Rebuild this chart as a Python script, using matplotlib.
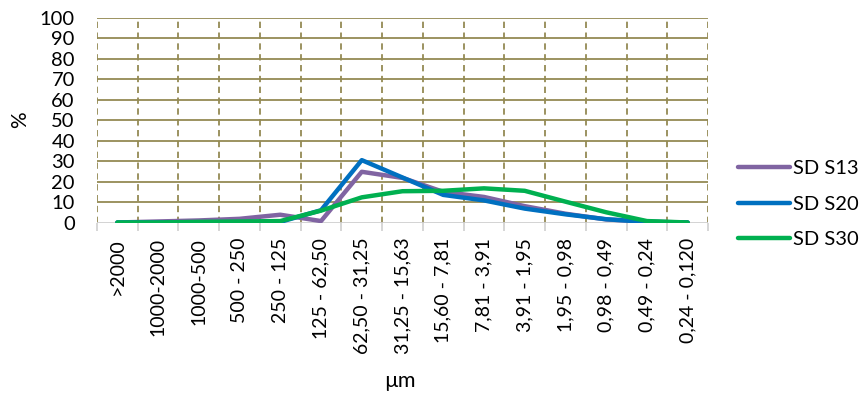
import numpy as np
import matplotlib
matplotlib.use("Agg")
import matplotlib.pyplot as plt

plt.rcParams['font.family'] = ['Lato', 'DejaVu Sans']

categories = [">2000", "1000-2000", "1000-500", "500 - 250", "250 - 125",
              "125 - 62,50", "62,50 - 31,25", "31,25 - 15,63", "15,60 - 7,81",
              "7,81 - 3,91", "3,91 - 1,95", "1,95 - 0,98", "0,98 - 0,49",
              "0,49 - 0,24", "0,24 - 0,120"]

sd_s13 = [0.0, 0.5, 1.0, 1.8, 3.8, 0.7, 24.8, 21.8, 15.0, 12.5, 8.0, 4.3, 1.5, 0.4, 0.0]
sd_s20 = [0.0, 0.0, 0.0, 0.0, 0.3, 6.0, 30.5, 22.0, 13.5, 10.8, 6.8, 4.0, 1.6, 0.3, 0.0]
sd_s30 = [0.0, 0.0, 0.3, 0.5, 0.7, 5.8, 12.3, 15.3, 15.5, 16.7, 15.5, 10.2, 5.0, 0.7, 0.0]

series = [("SD S13", sd_s13, "#8064A2"),
          ("SD S20", sd_s20, "#0070C0"),
          ("SD S30", sd_s30, "#00B050")]

grid_col = "#948A54"

fig = plt.figure(figsize=(8.62, 3.94), dpi=100)
ax = fig.add_axes([97 / 862, 1 - 222.5 / 394, 611 / 862, (222.5 - 18) / 394])

x = np.arange(len(categories))
for name, vals, col in series:
    ax.plot(x, vals, color=col, lw=3.2, label=name,
            solid_joinstyle="round", solid_capstyle="round", zorder=3)

ax.set_xlim(-0.5, len(categories) - 0.5)
ax.set_ylim(0, 100)
ax.set_yticks(np.arange(0, 101, 10))

# horizontal solid gridlines, vertical dashed gridlines at category borders
for yv in range(10, 101, 10):
    ax.axhline(yv, color=grid_col, lw=1.3, zorder=1)
for xb in np.arange(-0.5, len(categories), 1.0):
    ax.axvline(xb, color=grid_col, lw=1.3, ls=(0, (3.5, 2.5)), zorder=1)
ax.axhline(0, color="#D0D0D0", lw=1.3, zorder=2)

for s in ax.spines.values():
    s.set_visible(False)

ax.set_xticks(x)
ax.set_xticklabels(categories, rotation=90, fontsize=14, va="top")
ax.set_xticks(np.arange(-0.5, len(categories), 1.0), minor=True)
ax.tick_params(axis="x", which="major", length=0, pad=11)
ax.tick_params(axis="x", which="minor", length=6, color="#D0D0D0", width=1.2)
ax.tick_params(axis="y", length=0, labelsize=14.5, pad=16)

fig.text(20 / 862, 1 - 120 / 394, "%", rotation=90, ha="center", va="center", fontsize=15)
fig.text(400 / 862, 1 - 381 / 394, "µm", ha="center", va="center", fontsize=15.5)

fig.legend(loc="center left", bbox_to_anchor=(738 / 862, 1 - 204 / 394),
           frameon=False, fontsize=14.5, handlelength=2.6, handletextpad=0.15,
           labelspacing=0.92, borderaxespad=0, borderpad=0)

fig.savefig("out.png", dpi=100)
